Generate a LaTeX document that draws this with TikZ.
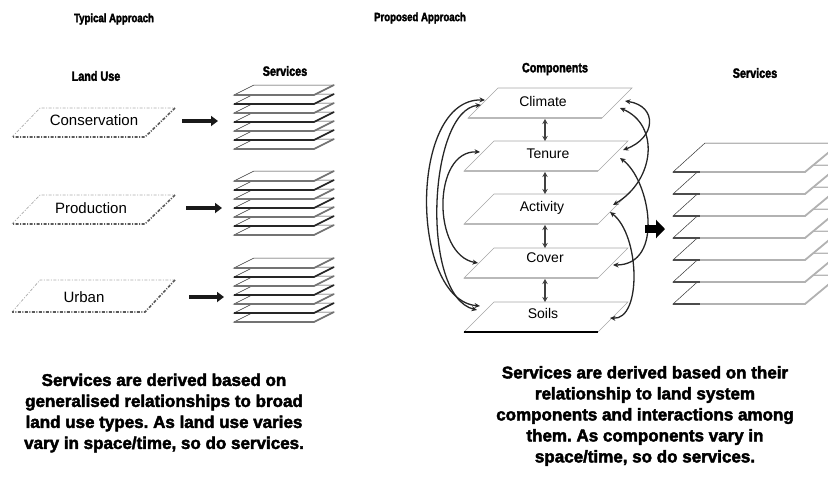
\documentclass[tikz,border=0pt]{standalone}
\usepackage{fontspec}
\setmainfont{Liberation Sans}
\newfontfamily\heavyfont[FakeBold=2.5]{Liberation Sans Bold}
\newfontfamily\heavycond[FakeBold=2.5,FakeStretch=0.8]{Liberation Sans Bold}
\usetikzlibrary{arrows.meta}
\frenchspacing
\begin{document}
\begin{tikzpicture}[x=1pt,y=-1pt,
  title/.style={font=\heavycond\fontsize{12}{14}\selectfont, inner sep=0pt},
  head/.style={font=\heavycond\fontsize{13.5}{15}\selectfont, inner sep=0pt},
  lu/.style={font=\fontsize{15}{17}\selectfont, inner sep=0pt},
  comp/.style={font=\fontsize{14}{16}\selectfont, inner sep=0pt},
  body/.style={font=\heavyfont\fontsize{17}{21}\selectfont, align=center, inner sep=0pt},
  luthin/.style={draw=gray!65, line width=0.7pt, dash pattern=on 3pt off 1.5pt on 1pt off 1.5pt},
  luthick/.style={draw=black!65, line width=1.6pt, dash pattern=on 3pt off 1.5pt on 1pt off 1.5pt},
  fat/.style={draw=black!90, line width=3.2pt, -{Triangle[length=7pt,width=10pt]}},
  rel/.style={draw=black!85, line width=1.3pt, {Stealth[length=5.5pt,width=5pt]}-{Stealth[length=5.5pt,width=5pt]}},
  vert/.style={draw=black!75, line width=1.5pt, {Stealth[length=5pt,width=5.5pt]}-{Stealth[length=5pt,width=5.5pt]}},
  plate/.style={fill=white, draw=black!80, line width=0.5pt},
  cplate/.style={fill=white, draw=gray!70, line width=0.6pt}
]
\useasboundingbox (0,0) rectangle (828,491);
\clip (0,0) rectangle (828,491);

% ---------- titles ----------
\node[title] (typ) at (114,19) {Typical Approach};
\node[title] (prop) at (420,18) {Proposed Approach};
\node[head] (landuse) at (96,76) {Land Use};
\node[head] (svcL) at (285,71) {Services};
\node[head] (compo) at (555,69) {Components};
\node[head] (svcR) at (755,73) {Services};

% ---------- land use plates ----------
\foreach \ty/\by in {108/137, 195/224, 280/312}{
  \fill[white] (40,\ty) -- (175,\ty) -- (145,\by) -- (12,\by) -- cycle;
  \draw[luthin] (12,\by) -- (40,\ty) -- (175,\ty);
  \draw[luthick] (175,\ty) -- (145,\by) -- (12,\by);
}
\node[lu] (cons) at (94,120) {Conservation};
\node[lu] (prod) at (91,208) {Production};
\node[lu] (urb) at (84,297) {Urban};

% ---------- left service stacks ----------
\foreach \base in {85,171,258}{
  \foreach \k in {6,5,...,0}{
    \pgfmathsetmacro\ty{\base+9*\k}
    \pgfmathsetmacro\colr{mod(\k,2)==0 ? 55 : 85}
    \filldraw[plate] (254,\ty) -- (334,\ty) -- (314,\ty+10) -- (234,\ty+10) -- cycle;
    \draw[line width=1.6pt, draw=black!\colr] (234,\ty+10) -- (314,\ty+10) -- (334,\ty);
  }
}

% ---------- left arrows ----------
\coordinate (a1s) at (182,121); \coordinate (a1e) at (218,121);
\coordinate (a2s) at (186,208); \coordinate (a2e) at (222,208);
\coordinate (a3s) at (189,297); \coordinate (a3e) at (224,297);
\draw[fat] (a1s) -- (a1e);
\draw[fat] (a2s) -- (a2e);
\draw[fat] (a3s) -- (a3e);

% ---------- right service stack ----------
\foreach \k in {6,5,...,0}{
  \pgfmathsetmacro\ty{143+22*\k}
  \filldraw[plate] (705,\ty) -- (840,\ty) -- (805,\ty+29) -- (673,\ty+29) -- cycle;
  \draw[line width=1.8pt, draw=gray!60] (673,\ty+29) -- (805,\ty+29) -- (840,\ty);
  \draw[line width=1.8pt, draw=black!70] (673,\ty+29) -- (700,\ty+29);
}

% ---------- component plates ----------
\foreach \ty/\dx/\bc in {302/0/black, 248/0/gray!55, 194/0/gray!55, 141/0/gray!55, 88/4/gray!55}{
  \filldraw[cplate] (494+\dx,\ty) -- (628+\dx,\ty) -- (598+\dx,\ty+30) -- (464+\dx,\ty+30) -- cycle;
  \draw[line width=2pt, draw=\bc] (464+\dx,\ty+30) -- (598+\dx,\ty+30);
}
\node[comp] (climate) at (543,101) {Climate};
\node[comp] (tenure) at (548,154) {Tenure};
\node[comp] (activity) at (542,208) {Activity};
\node[comp] (cover) at (545,258) {Cover};
\node[comp] (soils) at (543,313) {Soils};

% vertical links
\coordinate (v1a) at (545,119); \coordinate (v1b) at (545,141);
\coordinate (v2a) at (545,172); \coordinate (v2b) at (545,194);
\coordinate (v3a) at (545,225); \coordinate (v3b) at (545,248);
\coordinate (v4a) at (545,279); \coordinate (v4b) at (545,302);
\draw[vert] (v1a) -- (v1b);
\draw[vert] (v2a) -- (v2b);
\draw[vert] (v3a) -- (v3b);
\draw[vert] (v4a) -- (v4b);

% anchor points on plates
\coordinate (climL1) at (485,100); \coordinate (climL2) at (481,105);
\coordinate (tenL) at (480,152);
\coordinate (covL) at (478,263);
\coordinate (soiL1) at (480,306); \coordinate (soiL2) at (477,310);
\coordinate (climR1) at (625,101); \coordinate (climR2) at (620,108);
\coordinate (tenR1) at (623,150); \coordinate (tenR2) at (620,158);
\coordinate (actR1) at (613,205); \coordinate (actR2) at (610,212);
\coordinate (covR) at (613,265);
\coordinate (soiR) at (610,318);

% left curves
\draw[rel] (climL1) .. controls (408,98) and (410,300) .. (soiL1);
\draw[rel] (climL2) .. controls (428,110) and (420,296) .. (soiL2);
\draw[rel] (tenL) .. controls (432,150) and (432,255) .. (covL);
% right curves
\draw[rel] (climR1) .. controls (658,106) and (656,138) .. (tenR1);
\draw[rel] (climR2) .. controls (660,125) and (655,180) .. (actR1);
\draw[rel] (tenR2) .. controls (650,180) and (665,265) .. (covR);
\draw[rel] (actR2) .. controls (640,235) and (642,320) .. (soiR);

% big arrow
\coordinate (bigA) at (645,229); \coordinate (bigB) at (665,229);
\draw[draw=black, line width=8pt, -{Triangle[length=9pt,width=18pt]}] (bigA) -- (bigB);

% ---------- texts ----------
\node[body] (txtL) at (164,413) {Services are derived based on\\generalised relationships to broad\\land use types. As land use varies\\vary in space/time, so do services.};
\node[body] (txtR) at (645,416) {Services are derived based on their\\relationship to land system\\components and interactions among\\them. As components vary in\\space/time, so do services.};
\end{tikzpicture}
\end{document}
